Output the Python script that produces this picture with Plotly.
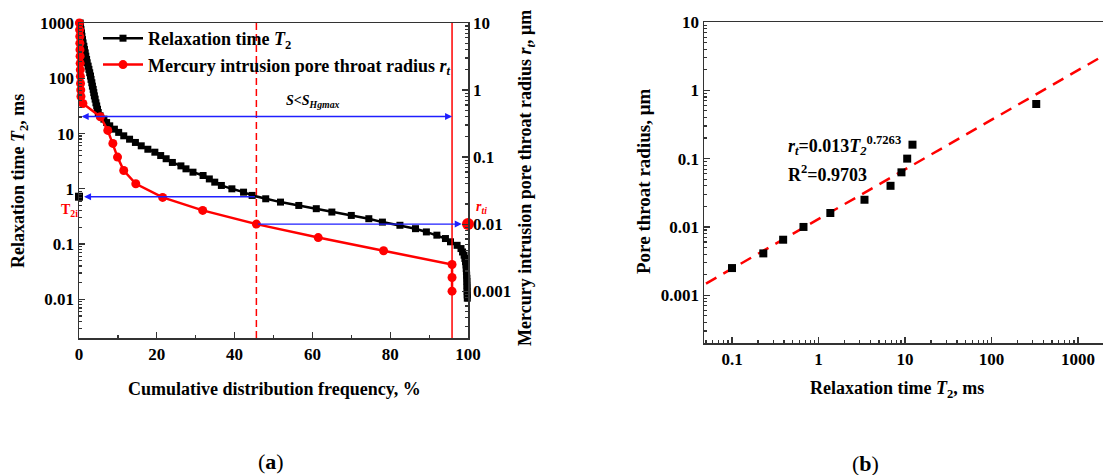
import math
import plotly.graph_objects as go

W, H = 1103, 475
SERIF = "Liberation Serif"

# ---------------- Panel (a) data ----------------
# NMR T2 distribution: cumulative frequency (%) vs relaxation time T2 (ms)
cum_freq = [0.3, 0.4, 0.5, 0.65, 0.75, 0.9, 1.05, 1.25, 1.4, 1.6, 1.75, 1.95, 2.1, 2.35,
            2.55, 2.75, 2.95, 3.1, 3.3, 3.45, 3.65, 3.8, 3.95, 4.15, 4.35, 4.55, 4.75, 4.95,
            5.4, 6.4, 7.1, 7.9, 9.1, 10.2, 11.5, 13.0, 14.5, 16.0, 17.7, 19.5, 21.0, 22.4,
            24.0, 26.2, 27.5, 29.3, 31.9, 33.5, 34.9, 36.6, 39.3, 42.3, 44.5, 48.0, 51.8,
            56.5, 61.0, 65.0, 70.0, 74.5, 78.0, 82.5, 86.5, 89.3, 92.0, 94.2, 95.5, 97.2,
            98.2, 98.6, 99.0, 99.2, 99.35, 99.5, 99.55, 99.6, 99.65, 99.7, 99.72, 99.74,
            99.76, 99.78, 99.8, 99.82]
t2_ms = [1000, 871, 759, 661, 575, 501, 437, 380, 331, 288, 251, 219, 191, 166,
         145, 126, 110, 95.5, 83, 72, 63, 55, 48, 42, 36, 31.6, 27.5, 24,
         21, 18.2, 15.8, 13.8, 12, 10.5, 9.1, 7.9, 6.9, 6.0, 5.2, 4.6, 4.0, 3.5,
         3.0, 2.6, 2.3, 2.0, 1.74, 1.51, 1.32, 1.15, 1.0, 0.87, 0.76, 0.66, 0.575,
         0.5, 0.437, 0.38, 0.33, 0.288, 0.25, 0.219, 0.19, 0.166, 0.145, 0.126, 0.11, 0.095,
         0.083, 0.072, 0.063, 0.055, 0.048, 0.042, 0.036, 0.032, 0.0275, 0.024, 0.021, 0.018,
         0.016, 0.0138, 0.012, 0.0105]

# Mercury intrusion: cumulative frequency (%) vs pore throat radius (um)
hg_freq = [0.1, 0.15, 0.2, 0.22, 0.25, 0.28, 0.3, 0.33, 0.36, 0.4, 0.45, 0.5, 1.0,
           5.5, 7.4, 8.7, 9.9, 11.5, 14.6, 21.5, 31.8, 45.6, 61.5, 78.3, 95.9, 95.9, 95.9]
hg_radius = [10, 7.9, 6.3, 5.0, 4.0, 3.2, 2.5, 2.0, 1.6, 1.25, 1.0, 0.8, 0.63,
             0.40, 0.25, 0.16, 0.10, 0.063, 0.040, 0.025, 0.016, 0.010, 0.0063, 0.004,
             0.0025, 0.0016, 0.001]

split_freq = 45.6          # red dashed line
s_hgmax_freq = 95.9        # red solid line
t2_arrow_level = 20.4      # S<S_Hgmax arrow level (ms)
t2i_value = 0.72           # T2i (ms)
rti_value = 0.01           # r_ti (um)

# ---------------- Panel (b) data ----------------
pair_t2 = [0.1, 0.23, 0.39, 0.67, 1.37, 3.4, 6.8, 9.1, 10.6, 12.2, 329]
pair_r = [0.0025, 0.0041, 0.0065, 0.010, 0.016, 0.025, 0.040, 0.063, 0.10, 0.16, 0.63]
fit_t2 = [0.05, 2000]
fit_r = [0.00148, 3.25]

# ---------------- helpers ----------------
def px(x):
    return x / W

def py(y):
    return 1 - y / H

def decades_minor(lo_exp, hi_exp):
    vals = []
    for e in range(lo_exp, hi_exp + 1):
        for m in range(2, 10):
            vals.append(m * 10 ** e)
    return vals

def label(x, y, text, font, xanchor="center", **kw):
    return dict(xref="paper", yref="paper", x=px(x), y=py(y), text=text, font=font,
                showarrow=False, xanchor=xanchor, yanchor="middle", **kw)

tick_font = dict(family=SERIF, size=17, color="black", weight="bold")
AX = "#333333"

fig = go.Figure()

# Panel (a) traces
fig.add_trace(go.Scatter(
    x=cum_freq, y=t2_ms, mode="lines+markers", xaxis="x", yaxis="y",
    name="Relaxation time <i>T</i><sub>2</sub>",
    line=dict(color="black", width=2.5),
    marker=dict(symbol="square", size=7, color="black"),
    cliponaxis=False))
fig.add_trace(go.Scatter(
    x=hg_freq, y=hg_radius, mode="lines+markers", xaxis="x", yaxis="y2",
    name="Mercury intrusion pore throat radius <i>r</i><sub><i>t</i></sub>",
    line=dict(color="red", width=2.5),
    marker=dict(symbol="circle", size=9, color="red"),
    cliponaxis=False))
fig.add_trace(go.Scatter(
    x=[0], y=[t2i_value], mode="markers", xaxis="x", yaxis="y", showlegend=False,
    marker=dict(symbol="square", size=8, color="black"), cliponaxis=False))
fig.add_trace(go.Scatter(
    x=[100], y=[rti_value], mode="markers", xaxis="x", yaxis="y2", showlegend=False,
    marker=dict(symbol="circle", size=12, color="red"), cliponaxis=False))

# Panel (b) traces
fig.add_trace(go.Scatter(
    x=fit_t2, y=fit_r, mode="lines", xaxis="x2", yaxis="y3", showlegend=False,
    line=dict(color="red", width=2.5, dash="12px,8px")))
fig.add_trace(go.Scatter(
    x=pair_t2, y=pair_r, mode="markers", xaxis="x2", yaxis="y3", showlegend=False,
    marker=dict(symbol="square", size=8, color="black"), cliponaxis=False))

# vertical lines panel (a)
fig.add_shape(type="line", xref="x", yref="y domain", x0=split_freq, x1=split_freq, y0=0, y1=1,
              line=dict(color="red", width=1.5, dash="7px,4px"))
fig.add_shape(type="line", xref="x", yref="y domain", x0=s_hgmax_freq, x1=s_hgmax_freq, y0=0, y1=1,
              line=dict(color="red", width=1.5))

BLUE = "#1f1fff"
ann = []
lv = math.log10(t2_arrow_level)
ann.append(dict(xref="x", yref="y", x=s_hgmax_freq, y=lv, axref="x", ayref="y", ax=0.3, ay=lv,
                text="", showarrow=True, arrowhead=2, startarrowhead=2, arrowside="end+start",
                arrowsize=1, startarrowsize=1, arrowwidth=1.4, arrowcolor=BLUE))
lt = math.log10(t2i_value)
ann.append(dict(xref="x", yref="y", x=1.3, y=lt, axref="x", ayref="y", ax=split_freq, ay=lt,
                text="", showarrow=True, arrowhead=2, arrowsize=1, arrowwidth=1.4, arrowcolor=BLUE))
lr = math.log10(rti_value)
ann.append(dict(xref="x", yref="y2", x=98.4, y=lr, axref="x", ayref="y2", ax=split_freq, ay=lr,
                text="", showarrow=True, arrowhead=2, arrowsize=1, arrowwidth=1.4, arrowcolor=BLUE))

small = dict(family=SERIF, size=14, weight="bold")
ann.append(label(313, 102, "<i>S</i>&lt;<i>S</i><sub><i>Hgmax</i></sub>", dict(small, color="black")))
ann.append(label(69, 210, "T<sub>2i</sub>", dict(small, color="red")))
ann.append(label(481, 207, "<i>r</i><sub><i>ti</i></sub>", dict(small, color="red")))

title_font = dict(family=SERIF, size=18, color="black", weight="bold")
ann.append(label(20, 181, "Relaxation time <i>T</i><sub>2</sub>, ms", title_font, textangle=-90))
ann.append(label(274, 389, "Cumulative distribution frequency, %", title_font))
ann.append(label(526, 178, "Mercury intrusion pore throat radius <i>r</i><sub><i>t</i></sub>, \u03bcm",
                 title_font, textangle=-90))
ann.append(label(643, 182, "Pore throat radius, \u03bcm", dict(title_font, size=19), textangle=-90))
ann.append(label(897, 389, "Relaxation time <i>T</i><sub>2</sub>, ms", title_font))
eq_font = dict(family=SERIF, size=18, color="black", weight="bold")
ann.append(label(786, 146,
                 "<i>r</i><sub><i>t</i></sub>=0.013<i>T</i><sub><i>2</i></sub><sup>0.7263</sup>",
                 eq_font, xanchor="left"))
ann.append(label(786, 174, "R<sup>2</sup>=0.9703", eq_font, xanchor="left"))
ann.append(label(271, 461, "(<b>a</b>)", dict(family=SERIF, size=22, color="black")))
ann.append(label(865, 463, "(<b>b</b>)", dict(family=SERIF, size=22, color="black")))

common = dict(showgrid=False, zeroline=False, showline=True, linecolor=AX, linewidth=1.5,
              ticks="inside", ticklen=6, tickwidth=1.2, tickcolor=AX, tickfont=tick_font,
              automargin=False)

fig.update_layout(
    width=W, height=H, margin=dict(l=0, r=0, t=0, b=0, autoexpand=False),
    paper_bgcolor="white", plot_bgcolor="white",
    showlegend=True,
    legend=dict(x=px(98), y=py(20), xanchor="left", yanchor="top", bgcolor="rgba(0,0,0,0)",
                font=dict(family=SERIF, size=18, color="black", weight="bold"),
                itemwidth=40, tracegroupgap=0),
    annotations=ann,
    xaxis=dict(common, domain=[px(79), px(468)], range=[0, 100], anchor="y", mirror=True,
               tickvals=[0, 20, 40, 60, 80, 100],
               minor=dict(tickvals=[10, 30, 50, 70, 90], ticks="inside", ticklen=3, tickcolor=AX)),
    yaxis=dict(common, domain=[py(338), py(23)], type="log", range=[math.log10(0.002), 3], anchor="x",
               tickvals=[0.01, 0.1, 1, 10, 100, 1000], ticktext=["0.01", "0.1", "1", "10", "100", "1000"],
               minor=dict(tickvals=decades_minor(-3, 2), ticks="inside", ticklen=3, tickcolor=AX)),
    yaxis2=dict(common, overlaying="y", side="right", type="log", range=[math.log10(0.0002), 1], anchor="x",
                tickvals=[0.001, 0.01, 0.1, 1, 10], ticktext=["0.001", "0.01", "0.1", "1", "10"],
                minor=dict(tickvals=decades_minor(-4, 0), ticks="inside", ticklen=3, tickcolor=AX)),
    xaxis2=dict(common, domain=[px(704), 1.0], type="log", range=[-1.324, 3.289], anchor="y3", mirror=True,
                tickvals=[0.1, 1, 10, 100, 1000], ticktext=["0.1", "1", "10", "100", "1000"],
                minor=dict(tickvals=decades_minor(-2, 3), ticks="inside", ticklen=3, tickcolor=AX)),
    yaxis3=dict(common, domain=[py(343), py(22)], type="log", range=[math.log10(0.0002), 1], anchor="x2",
                tickvals=[0.001, 0.01, 0.1, 1, 10], ticktext=["0.001", "0.01", "0.1", "1", "10"],
                minor=dict(tickvals=decades_minor(-4, 0), ticks="inside", ticklen=3, tickcolor=AX)),
)

fig.write_html("out.html", config={"displayModeBar": False, "staticPlot": True},
               post_script="document.body.style.margin='0';document.body.style.overflow='hidden';")
